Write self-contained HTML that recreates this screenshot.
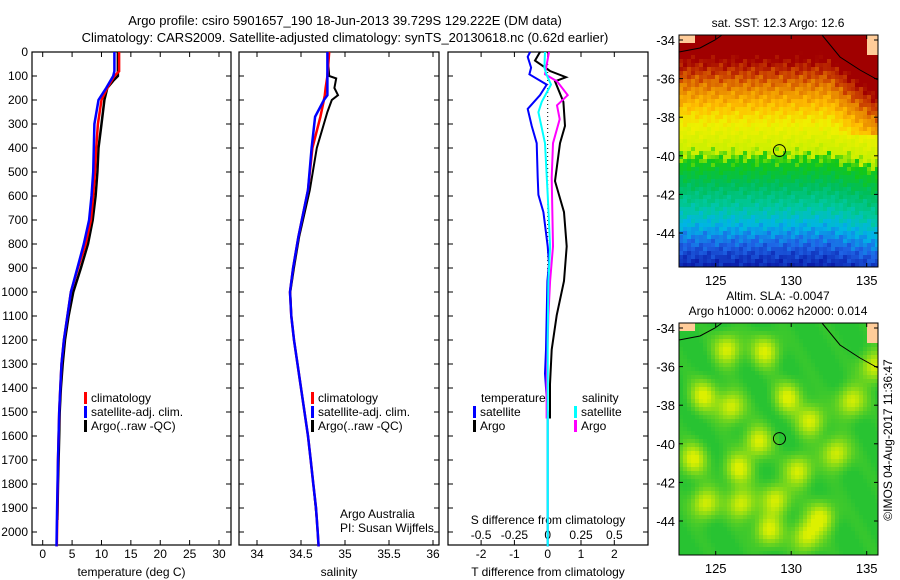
<!DOCTYPE html>
<html><head><meta charset="utf-8"><style>
body{margin:0;background:#fff;}
svg{display:block;font-family:"Liberation Sans",sans-serif;font-size:12px;}
</style></head><body>
<svg id="fig" width="900" height="580" viewBox="0 0 900 580">
<rect width="900" height="580" fill="#fff"/>
<text x="345" y="25" text-anchor="middle" font-size="13">Argo profile: csiro 5901657_190 18-Jun-2013 39.729S 129.222E (DM data)</text>
<text x="345" y="42" text-anchor="middle" font-size="13">Climatology: CARS2009. Satellite-adjusted climatology: synTS_20130618.nc (0.62d earlier)</text>
<g id="p1"></g>
<g id="p2"></g>
<g id="p3"></g>
<g id="m1"></g>
<g id="m2"></g>
<text x="340" y="518">Argo Australia</text>
<text x="340" y="532">PI: Susan Wijffels</text>
<text transform="translate(892,440) rotate(-90)" text-anchor="middle">©IMOS 04-Aug-2017 11:36:47</text>
</svg>
<script>
// ---- data ----
const depthTicks=[0,100,200,300,400,500,600,700,800,900,1000,1100,1200,1300,1400,1500,1600,1700,1800,1900,2000];
const tempTicks=[0,5,10,15,20,25,30];
const salTicks=[34,34.5,35,35.5,36];
const tdiffTicks=[-2,-1,0,1,2];
const sdiffTicks=[-0.5,-0.25,0,0.25,0.5];
const sdiffTickLabels=["-0.5","-0.25","0","0.25","0.5"];
const climDepth=[0,80,100,150,200,300,400,500,600,700,800,900,1000,1100,1200,1300,1400,1500,1700,1900,2060];
const climTemp=[13.0,13.0,12.2,11,10,9.4,9.1,8.9,8.6,8.2,7.3,6.0,4.8,4.2,3.6,3.2,3.0,2.8,2.6,2.5,2.4];
const satTemp=[12.2,12.2,12.0,10.8,9.5,8.8,8.7,8.6,8.3,7.9,7.0,5.9,4.8,4.2,3.6,3.2,3.0,2.8,2.6,2.45,2.35];
const argoDepth=[0,100,120,150,200,300,400,500,600,700,800,900,1000,1100,1200,1300,1400,1500,1600,1800,1950];
const argoTemp=[12.8,12.8,12,11,10.5,10,9.5,9.3,9,8.5,7.7,6.5,5.2,4.4,3.8,3.4,3.1,2.9,2.8,2.6,2.5];
const salDepth=[0,100,150,180,200,270,400,575,770,900,1000,1100,1200,1300,1400,1500,1600,1700,1800,1900,2000,2060];
const climSal=[34.82,34.8,34.78,34.77,34.76,34.72,34.63,34.58,34.47,34.41,34.375,34.39,34.42,34.46,34.5,34.54,34.58,34.61,34.64,34.67,34.69,34.7];
const satSal=[34.8,34.8,34.8,34.8,34.76,34.66,34.62,34.58,34.47,34.41,34.375,34.39,34.42,34.46,34.5,34.54,34.58,34.61,34.64,34.67,34.69,34.7];
const argoSalDepth=[0,100,110,150,180,200,250,400,575,770,900,1000,1100,1200,1300,1400,1500,1600,1700,1800,1950];
const argoSal=[34.8,34.82,34.9,34.88,34.92,34.85,34.8,34.68,34.6,34.48,34.42,34.38,34.39,34.42,34.46,34.5,34.54,34.58,34.61,34.64,34.68];
const tdSatDepth=[0,20,65,93,136,180,237,308,380,523,595,667,810,882,954,1240,1340,1500,2060];
const tdSat=[-0.53,-0.6,-0.5,-0.55,-0.03,-0.23,-0.6,-0.48,-0.33,-0.3,-0.28,-0.13,0,0.04,-0.01,-0.05,-0.08,0,0];
const tdArgoDepth=[0,36,79,105,122,208,308,380,538,667,810,954,1097,1240,1384,1527];
const tdArgo=[-0.23,-0.38,0.07,0.55,0.22,0.47,0.52,0.37,0.22,0.49,0.57,0.49,0.27,0.12,0.07,0.07];
const sdSatDepth=[0,65,93,136,208,251,380,595,810,954,1200,2060];
const sdSat=[-0.02,-0.025,-0.01,0.025,-0.045,-0.07,-0.02,0,0.018,0.005,0,0];
const sdArgoDepth=[0,93,122,180,222,280,380,523,810,954,1097,1384,1527];
const sdArgo=[0.01,-0.02,0.07,0.15,0.07,0.09,0.04,0.03,0.04,0.018,0.005,-0.008,-0.008];
const slaBlobLon=[125.8,128.3,124.2,126,127.8,129.8,131.3,126.5,124.3,126.7,129,132,134,135.5,130.5,133,123.5,131,128.5];
const slaBlobLat=[-35.1,-35.2,-37.5,-38.1,-39.9,-37.6,-38.8,-41.3,-43.1,-43.1,-42.9,-43.8,-37.8,-36,-41.4,-40.5,-40.8,-44.8,-44.5];

const NS='http://www.w3.org/2000/svg';
function mk(tag,attrs,parent){const e=document.createElementNS(NS,tag);for(const k in attrs)e.setAttribute(k,attrs[k]);parent.appendChild(e);return e;}
const pTop=52,pBot=545;
const yD=d=>52+d*0.24;

function frame(g,x0,x1,xs,ticks,labels,labelY,title,titleY,yLabels){
  const r=mk('rect',{x:x0,y:pTop,width:x1-x0,height:pBot-pTop,fill:'none',stroke:'#000','stroke-width':1.2},g);
  
  
  depthTicks.forEach(d=>{
    mk('line',{x1:x0,x2:x0+5,y1:yD(d),y2:yD(d),stroke:'#000'},g);
    mk('line',{x1:x1-5,x2:x1,y1:yD(d),y2:yD(d),stroke:'#000'},g);
    if(yLabels){const t=mk('text',{x:x0-4,y:yD(d)+4,'text-anchor':'end'},g);t.textContent=d;
      
      }
  });
  ticks.forEach((v,i)=>{
    const x=xs(v);
    mk('line',{x1:x,x2:x,y1:pTop,y2:pTop+5,stroke:'#000'},g);
    mk('line',{x1:x,x2:x,y1:pBot-5,y2:pBot,stroke:'#000'},g);
    const t=mk('text',{x:x,y:labelY,'text-anchor':'middle'},g);t.textContent=labels?labels[i]:v;
    
    
  });
  const tt=mk('text',{x:(x0+x1)/2,y:titleY,'text-anchor':'middle'},g);tt.textContent=title;
  
  
}
function line(g,xs,vals,deps,color,w,name){
  const p=mk('polyline',{points:vals.map((v,i)=>xs(v).toFixed(1)+','+yD(deps[i]).toFixed(1)).join(' '),fill:'none',stroke:color,'stroke-width':w},g);
  
  
}
function legItem(g,x,y,color,label){
  if(color)mk('rect',{x:x,y:y-10,width:3,height:12,fill:color},g);
  const t=mk('text',{x:x+7,y:y},g);t.textContent=label;
  
  
}

// Panel 1
const g1=document.getElementById('p1');
const xT=v=>42.7+v*5.877;
frame(g1,32,231,xT,tempTicks,null,558,'temperature (deg C)',576,true);
line(g1,xT,argoTemp,argoDepth,'#000',2.5,'argo-temperature-line');
line(g1,xT,climTemp,climDepth,'#f00',2.5,'climatology-temperature-line');
line(g1,xT,satTemp,climDepth,'#00f',2.5,'satellite-temperature-line');
legItem(g1,84,402,'#f00','climatology');
legItem(g1,84,416,'#00f','satellite-adj. clim.');
legItem(g1,84,430,'#000','Argo(..raw -QC)');

// Panel 2
const g2=document.getElementById('p2');
const xS=v=>257+(v-34)*88;
frame(g2,239,439,xS,salTicks,null,558,'salinity',576,false);
line(g2,xS,argoSal,argoSalDepth,'#000',2,'argo-salinity-line');
line(g2,xS,climSal,salDepth,'#f00',2.5,'climatology-salinity-line');
line(g2,xS,satSal,salDepth,'#00f',2.5,'satellite-salinity-line');
legItem(g2,311,402,'#f00','climatology');
legItem(g2,311,416,'#00f','satellite-adj. clim.');
legItem(g2,311,430,'#000','Argo(..raw -QC)');

// Panel 3
const g3=document.getElementById('p3');
const xTD=v=>547.7+v*33.3;
const xSD=v=>547.7+v*133.2;
frame(g3,448,648,xTD,tdiffTicks,null,558,'T difference from climatology',576,false);
sdiffTicks.forEach((v,i)=>{const t=mk('text',{x:xSD(v),y:539,'text-anchor':'middle'},g3);t.textContent=sdiffTickLabels[i];
  
  });
const st=mk('text',{x:548,y:524,'text-anchor':'middle'},g3);st.textContent='S difference from climatology';


mk('line',{x1:547.7,x2:547.7,y1:pTop,y2:pBot,stroke:'#000','stroke-dasharray':'1,3'},g3);
line(g3,xTD,tdSat,tdSatDepth,'#00f',2,'t-diff-satellite-line');
line(g3,xTD,tdArgo,tdArgoDepth,'#000',2,'t-diff-argo-line');
line(g3,xSD,sdArgo,sdArgoDepth,'#f0f',2,'s-diff-argo-line');
line(g3,xSD,sdSat,sdSatDepth,'#0ff',2,'s-diff-satellite-line');
legItem(g3,474,402,null,'temperature');
legItem(g3,473,416,'#00f','satellite');
legItem(g3,473,430,'#000','Argo');
legItem(g3,575,402,null,'salinity');
legItem(g3,574,416,'#0ff','satellite');
legItem(g3,574,430,'#f0f','Argo');

// Maps
const latTicks=[-34,-36,-38,-40,-42,-44];
const lonTicks=[125,130,135];
function sstColor(lat,lon,n){
  let v=(lat+45.8)/12;
  if(lon>132.5)v+=(lon-132.5)*0.05*(lat>-39?1:0.3);
  v+=n*0.035;
  const stops=[[0,[10,30,170]],[0.1,[30,100,230]],[0.18,[0,180,230]],[0.26,[0,200,160]],[0.36,[0,190,90]],[0.46,[20,200,20]],[0.5,[200,240,0]],[0.62,[240,240,0]],[0.7,[255,190,0]],[0.78,[230,130,0]],[0.84,[200,60,0]],[0.9,[160,0,0]]];
  v=Math.max(0,Math.min(1,v));
  for(let i=1;i<stops.length;i++){if(v<=stops[i][0]){const a=stops[i-1],b=stops[i];const t=(v-a[0])/(b[0]-a[0]);return 'rgb('+a[1].map((c,k)=>Math.round(c+(b[1][k]-c)*t)).join(',')+')';}}
  return 'rgb(160,0,0)';
}
function slaColor(lat,lon){
  let s=0;
  for(let i=0;i<slaBlobLon.length;i++){const dx=(lon-slaBlobLon[i])/0.9,dy=(lat-slaBlobLat[i])/0.8;s+=Math.exp(-(dx*dx+dy*dy));}
  s+=0.08*Math.sin(lon*2.3+lat*1.7);
  const t=Math.max(0,Math.min(1,s));
  return 'rgb('+Math.round(40+180*t)+','+Math.round(195+45*t)+','+Math.round(50-50*t)+')';
}
function drawMap(id,y0,title,colorFn){
  const g=document.getElementById(id);
  const x0=679,x1=878,y1=y0+232;
  const xL=v=>715.7+(v-125)*15.1, yL=v=>y0+5+(-34-v)*19.3;
  const cs=4;
  for(let y=y0;y<y1;y+=cs)for(let x=x0;x<x1;x+=cs){
    const lon=125+(x+cs/2-715.7)/15.1, lat=-34-(y+cs/2-y0-5)/19.3;
    let c=colorFn(lat,lon);
    if(lon>134.9&&lat>-34.7) c='#ffcc99';
    if(lon<123.6&&lat>-34.1) c='#ffcc99';
    mk('rect',{x:x,y:y,width:Math.min(cs,x1-x),height:Math.min(cs,y1-y),fill:c},g);
  }
  mk('polyline',{points:`679,${y0+17} 700,${y0+13} 715,${y0+5} 722,${y0}`,fill:'none',stroke:'#000','stroke-width':1},g);
  mk('polyline',{points:`822,${y0} 840,${y0+22} 860,${y0+35} 878,${y0+45}`,fill:'none',stroke:'#000','stroke-width':1},g);
  const fr=mk('rect',{x:x0,y:y0,width:x1-x0,height:232,fill:'none',stroke:'#000'},g);
  
  
  latTicks.forEach(v=>{mk('line',{x1:x0,x2:x0+4,y1:yL(v),y2:yL(v),stroke:'#000'},g);mk('line',{x1:x1-4,x2:x1,y1:yL(v),y2:yL(v),stroke:'#000'},g);
    const t=mk('text',{x:x0-4,y:yL(v)+5,'text-anchor':'end',"font-size":13},g);t.textContent=String(v);
    
    });
  lonTicks.forEach(v=>{mk('line',{x1:xL(v),x2:xL(v),y1:y0,y2:y0+4,stroke:'#000'},g);mk('line',{x1:xL(v),x2:xL(v),y1:y1-4,y2:y1,stroke:'#000'},g);
    const t=mk('text',{x:xL(v),y:y1+18,'text-anchor':'middle',"font-size":13},g);t.textContent=v;
    
    });
  const c=mk('circle',{cx:xL(129.222),cy:yL(-39.729),r:6,fill:'none',stroke:'#000'},g);
  
  
  title.forEach((s,i)=>{const t=mk('text',{x:778,y:y0-(title.length-1-i)*15-8,'text-anchor':'middle'},g);t.textContent=s;
    
    });
}
function noise(lat,lon){return Math.sin(lat*7.3+lon*5.1)*Math.cos(lon*9.7-lat*3.3);}
drawMap('m1',35,['sat. SST: 12.3 Argo: 12.6'],(la,lo)=>sstColor(la,lo,noise(la,lo)));
drawMap('m2',323,['Altim. SLA: -0.0047','Argo h1000: 0.0062 h2000: 0.014'],slaColor);
</script>
</body></html>
